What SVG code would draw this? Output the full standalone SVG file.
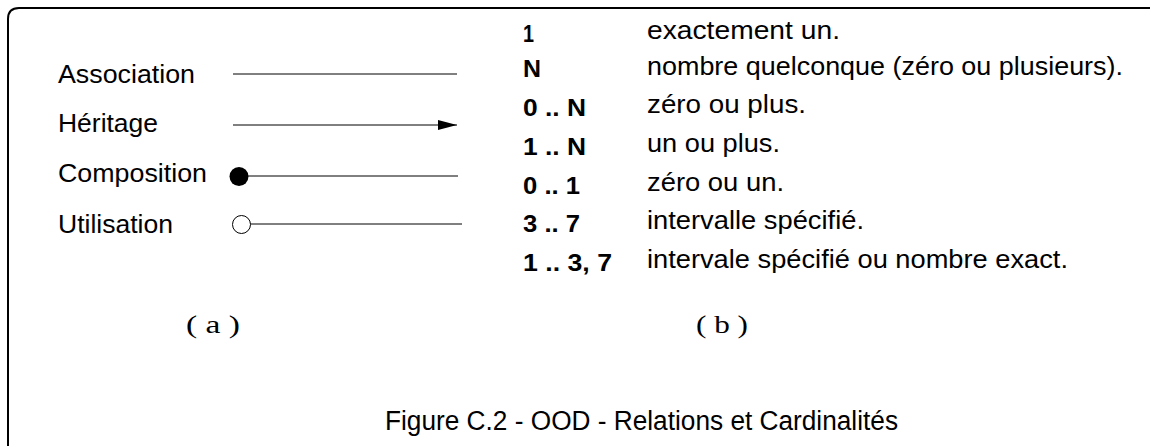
<svg xmlns="http://www.w3.org/2000/svg" width="1150" height="446" viewBox="0 0 1150 446">
<style>
.lbl{font-family:"Liberation Sans",Arial,sans-serif;font-size:25px;fill:#000}
.num{font-family:"Liberation Sans",Arial,sans-serif;font-size:24px;font-weight:bold;fill:#000}
.desc{font-family:"Liberation Sans",Arial,sans-serif;font-size:25.5px;fill:#000}
.sub{font-family:"Liberation Serif","Times New Roman",serif;font-size:25px;fill:#000}
.cap{font-family:"Liberation Sans",Arial,sans-serif;font-size:27px;fill:#000}
.ln{stroke:#000;stroke-width:1;fill:none}
</style>
<defs>
<marker id="arr" viewBox="0 0 19 10" refX="19" refY="5" markerWidth="19" markerHeight="10" markerUnits="userSpaceOnUse" orient="auto">
<path d="M0,0 L19,5 L0,10 Z" fill="#000"/>
</marker>
</defs>
<g id="frame">
<path d="M8,446 L8,19 Q8,8 19,8 L1150,8" fill="none" stroke="#000" stroke-width="2"/>
</g>
<g id="legend-a">
<text class="lbl" x="58" y="83" textLength="137" lengthAdjust="spacingAndGlyphs">Association</text>
<text class="lbl" x="58" y="132" textLength="100" lengthAdjust="spacingAndGlyphs">Héritage</text>
<text class="lbl" x="58" y="182" textLength="149" lengthAdjust="spacingAndGlyphs">Composition</text>
<text class="lbl" x="58" y="233" textLength="115" lengthAdjust="spacingAndGlyphs">Utilisation</text>
</g>
<g id="connectors">
<line class="ln" x1="233" y1="74" x2="457" y2="74"/>
<line class="ln" x1="233" y1="125" x2="457" y2="125" marker-end="url(#arr)"/>
<circle cx="239" cy="176.5" r="9.5" fill="#000"/>
<line class="ln" x1="248" y1="176" x2="458" y2="176"/>
<circle cx="241.5" cy="224.5" r="9" fill="#fff" stroke="#000" stroke-width="1"/>
<line class="ln" x1="250.5" y1="224" x2="462" y2="224"/>
</g>
<g id="legend-b">
<text class="num" x="523" y="42" textLength="11" lengthAdjust="spacingAndGlyphs">1</text>
<text class="num" x="523" y="77" textLength="18" lengthAdjust="spacingAndGlyphs">N</text>
<text class="num" x="523" y="116" textLength="63" lengthAdjust="spacingAndGlyphs">0 .. N</text>
<text class="num" x="523" y="155" textLength="63" lengthAdjust="spacingAndGlyphs">1 .. N</text>
<text class="num" x="523" y="194" textLength="57" lengthAdjust="spacingAndGlyphs">0 .. 1</text>
<text class="num" x="523" y="232" textLength="57" lengthAdjust="spacingAndGlyphs">3 .. 7</text>
<text class="num" x="523" y="271" textLength="89" lengthAdjust="spacingAndGlyphs">1 .. 3, 7</text>
<text class="desc" x="647" y="39" textLength="193" lengthAdjust="spacingAndGlyphs">exactement un.</text>
<text class="desc" x="647" y="75" textLength="476" lengthAdjust="spacingAndGlyphs">nombre quelconque (zéro ou plusieurs).</text>
<text class="desc" x="647" y="113" textLength="159" lengthAdjust="spacingAndGlyphs">zéro ou plus.</text>
<text class="desc" x="647" y="152" textLength="133" lengthAdjust="spacingAndGlyphs">un ou plus.</text>
<text class="desc" x="647" y="191" textLength="137" lengthAdjust="spacingAndGlyphs">zéro ou un.</text>
<text class="desc" x="647" y="229" textLength="217" lengthAdjust="spacingAndGlyphs">intervalle spécifié.</text>
<text class="desc" x="647" y="268" textLength="421" lengthAdjust="spacingAndGlyphs">intervale spécifié ou nombre exact.</text>
</g>
<g id="subtitles">
<text class="sub" x="186" y="333" textLength="54" lengthAdjust="spacingAndGlyphs">( a )</text>
<text class="sub" x="696" y="333" textLength="52" lengthAdjust="spacingAndGlyphs">( b )</text>
</g>
<g id="caption">
<text class="cap" x="385" y="430" textLength="513" lengthAdjust="spacingAndGlyphs">Figure C.2 - OOD - Relations et Cardinalités</text>
</g>
</svg>
